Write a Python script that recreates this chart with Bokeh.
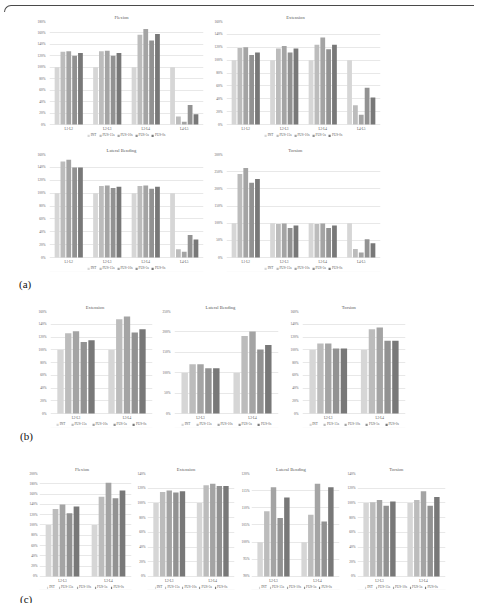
from bokeh.plotting import figure
from bokeh.models import (FactorRange, Range1d, Legend, LegendItem, PrintfTickFormatter,
                          FixedTicker, Spacer, Div, BoxAnnotation, ColumnDataSource)
from bokeh.core.properties import value
from bokeh.transform import dodge
from bokeh.layouts import column, row
from bokeh.embed import file_html
from bokeh.resources import INLINE

SERIES = ["INT", "FUS-15s", "FUS-10s", "FUS-5s", "FUS-0s"]
COLORS = ["#d6d6d6", "#bcbcbc", "#a4a4a4", "#929292", "#787878"]

CATS_A = ["L1-L2", "L2-L3", "L3-L4", "L4-L5"]
CATS_BC = ["L2-L3", "L3-L4"]

# ---- (a) ----
flexion_a = {"INT": [100, 100, 100, 100], "FUS-15s": [127, 128, 157, 14],
             "FUS-10s": [128, 129, 167, 5], "FUS-5s": [120, 120, 147, 34],
             "FUS-0s": [125, 125, 158, 18]}
extension_a = {"INT": [100, 100, 100, 100], "FUS-15s": [119, 118, 124, 30],
               "FUS-10s": [120, 122, 135, 15], "FUS-5s": [108, 112, 117, 57],
               "FUS-0s": [112, 118, 124, 42]}
lateral_a = {"INT": [100, 100, 100, 100], "FUS-15s": [149, 111, 111, 13],
             "FUS-10s": [152, 112, 112, 9], "FUS-5s": [140, 108, 107, 35],
             "FUS-0s": [140, 110, 110, 28]}
torsion_a = {"INT": [100, 100, 100, 100], "FUS-15s": [243, 98, 98, 25],
             "FUS-10s": [261, 99, 99, 15], "FUS-5s": [218, 86, 86, 53],
             "FUS-0s": [229, 93, 93, 42]}
# ---- (b) ----
extension_b = {"INT": [100, 100], "FUS-15s": [126, 148], "FUS-10s": [129, 152],
               "FUS-5s": [112, 127], "FUS-0s": [115, 132]}
lateral_b = {"INT": [100, 100], "FUS-15s": [121, 190], "FUS-10s": [121, 201],
             "FUS-5s": [111, 157], "FUS-0s": [111, 168]}
torsion_b = {"INT": [100, 100], "FUS-15s": [110, 132], "FUS-10s": [110, 135],
             "FUS-5s": [102, 114], "FUS-0s": [102, 114]}
# ---- (c) ----
flexion_c = {"INT": [100, 100], "FUS-15s": [131, 155], "FUS-10s": [140, 182],
             "FUS-5s": [123, 152], "FUS-0s": [136, 167]}
extension_c = {"INT": [100, 100], "FUS-15s": [115, 124], "FUS-10s": [117, 126],
               "FUS-5s": [114, 123], "FUS-0s": [116, 123]}
lateral_c = {"INT": [100, 100], "FUS-15s": [109, 108], "FUS-10s": [116, 117],
             "FUS-5s": [107, 106], "FUS-0s": [113, 116]}
torsion_c = {"INT": [100, 100], "FUS-15s": [101, 104], "FUS-10s": [104, 116],
             "FUS-5s": [96, 96], "FUS-0s": [102, 108]}

FONT = "Liberation Serif"
TXT = "#595959"
GRID = "#d9d9d9"
SLOT = 0.152
BW = 0.124
TITLE_FS = 4.6
SMALL = "3.4px"
LEG_BAND = 14   # px below the base line reserved for the legend

CW = {"F": .556, "l": .278, "e": .444, "x": .5, "i": .278, "o": .5, "n": .5, "E": .611,
      "t": .278, "s": .389, "L": .611, "a": .444, "r": .333, " ": .25, "B": .667,
      "d": .5, "g": .5, "T": .611}


def text_w(t, fs):
    return sum(CW.get(ch, 0.5) for ch in t) * fs


def panel(title, cats, data, ylo, yhi, ystep, box, frame, ystandoff=4, lspacing=2, gw=3):
    x0, y0, w, h = box
    fl, fr, ft, fb = frame
    mb = round(y0 + h - fb)
    # extend the frame downwards so the legend band lies inside it
    extra = LEG_BAND * (yhi - ylo) / (fb - ft)
    p = figure(width=w, height=h, x_range=FactorRange(*cats),
               y_range=Range1d(ylo - extra, yhi),
               output_backend="svg", toolbar_location=None,
               min_border_left=round(fl - x0), min_border_right=round(x0 + w - fr),
               min_border_top=round(ft - y0), min_border_bottom=max(mb - LEG_BAND, 0))
    p.background_fill_color = "white"
    p.border_fill_color = "white"
    p.outline_line_color = None
    cols = {f"v{j}": data[s] for j, s in enumerate(SERIES)}
    src = ColumnDataSource(dict(cat=cats, **cols))
    rends = []
    for j, c in enumerate(COLORS):
        r = p.vbar(x=dodge("cat", (j - 2) * SLOT, range=p.x_range), top=f"v{j}", bottom=ylo,
                   width=BW, source=src, fill_color=c, line_color=None)
        rends.append(r)
    leg = Legend(items=[LegendItem(label=value(s), renderers=[r]) for s, r in zip(SERIES, rends)],
                 orientation="horizontal", location="bottom_center", margin=1,
                 label_text_font=FONT, label_text_font_size=SMALL, label_text_color=TXT,
                 glyph_width=gw, glyph_height=3, label_standoff=1, spacing=lspacing,
                 padding=0, border_line_alpha=0, background_fill_alpha=0,
                 label_height=4, label_width=1)
    p.add_layout(leg)

    for ax in (p.xaxis[0], p.yaxis[0]):
        ax.axis_line_color = None
        ax.major_tick_line_color = None
        ax.minor_tick_line_color = None
        ax.major_tick_out = 0
        ax.major_tick_in = 0
        ax.minor_tick_out = 0
        ax.major_label_text_font = FONT
        ax.major_label_text_font_size = SMALL
        ax.major_label_text_color = TXT
    p.xaxis.major_label_standoff = 2 - LEG_BAND
    p.yaxis.ticker = FixedTicker(ticks=list(range(ylo, yhi + 1, ystep)))
    p.yaxis.formatter = PrintfTickFormatter(format="%d%%")
    p.yaxis.major_label_standoff = ystandoff

    p.xgrid.visible = False
    p.ygrid.ticker = FixedTicker(ticks=list(range(ylo, yhi + 1, ystep)))
    p.ygrid.grid_line_color = GRID
    p.ygrid.grid_line_width = 0.6

    p.title.text = title
    p.title.text_font = FONT
    p.title.text_font_size = f"{TITLE_FS}px"
    p.title.text_font_style = "normal"
    p.title.text_color = TXT
    p.title.align = "left"
    p.title.offset = (x0 + w / 2 - fl) - text_w(title, TITLE_FS) / 2
    p.title.standoff = 3

    p.add_layout(BoxAnnotation(left=0.5, right=w - 0.5, top=0.5, bottom=h - 0.5,
                               left_units="canvas", right_units="canvas",
                               top_units="canvas", bottom_units="canvas",
                               fill_alpha=0, line_color="#d4d4d4", line_width=0.8))
    return p


def sp(w, h):
    return Spacer(width=w, height=h)


def label(t, w, h, mt):
    return Div(text=f'<div style="margin-top:{mt}px;font-family:\'Liberation Serif\';'
                    f'font-size:11px;color:#111;line-height:12px">{t}</div>',
               width=w, height=h, margin=(0, 0, 0, 0))


p1 = panel("Flexion", CATS_A, flexion_a, 0, 180, 20, (34, 10, 172, 130), (48, 203, 21, 124))
p2 = panel("Extension", CATS_A, extension_a, 0, 160, 20, (207, 10, 176, 130), (226, 380, 21, 124))
p3 = panel("Lateral Bending", CATS_A, lateral_a, 0, 160, 20, (34, 142, 172, 130), (48, 203, 153.5, 257))
p4 = panel("Torsion", CATS_A, torsion_a, 0, 300, 50, (207, 142, 176, 130), (226, 380, 153.5, 257))

p5 = panel("Extension", CATS_BC, extension_b, 0, 160, 20, (34, 299, 121, 129), (50, 152, 310.7, 412.7), lspacing=5)
p6 = panel("Lateral Bending", CATS_BC, lateral_b, 0, 250, 50, (157, 299, 126, 129), (174, 278, 310.7, 412.7), lspacing=5)
p7 = panel("Torsion", CATS_BC, torsion_b, 0, 160, 20, (287, 299, 121, 129), (301, 405, 310.7, 412.7), lspacing=5)

p8 = panel("Flexion", CATS_BC, flexion_c, 0, 200, 20, (26, 462, 107, 128), (37, 131, 472.7, 575.5), ystandoff=2, lspacing=3, gw=2)
p9 = panel("Extension", CATS_BC, extension_c, 0, 140, 20, (134, 462, 103, 128), (147, 234, 472.7, 575.5), ystandoff=2, lspacing=2, gw=2)
p10 = panel("Lateral Bending", CATS_BC, lateral_c, 90, 120, 5, (238, 462, 105, 128), (251, 339, 472.7, 575.5), ystandoff=2, lspacing=2, gw=2)
p11 = panel("Torsion", CATS_BC, torsion_c, 0, 140, 20, (344, 462, 104, 128), (357, 445, 472.7, 575.5), ystandoff=2, lspacing=2, gw=2)

top = Div(text='<div style="margin-top:3px;margin-left:4px;width:470px;height:7px;'
               'border-top:1.4px solid #4a4a4a;border-left:1.4px solid #4a4a4a;'
               'border-top-left-radius:8px;"></div>',
          width=477, height=10, margin=(0, 0, 0, 0))

layout = column(
    top,
    row(sp(34, 130), p1, sp(1, 130), p2),
    sp(10, 2),
    row(sp(34, 130), p3, sp(1, 130), p4),
    row(sp(19, 27), label("(a)", 40, 27, 6)),
    row(sp(34, 129), p5, sp(2, 129), p6, sp(4, 129), p7),
    row(sp(20, 34), label("(b)", 40, 34, 2)),
    row(sp(26, 128), p8, sp(1, 128), p9, sp(1, 128), p10, sp(1, 128), p11),
    row(sp(20, 13), label("(c)", 40, 13, 3)),
)

open("out.html", "w").write(file_html(layout, INLINE))
